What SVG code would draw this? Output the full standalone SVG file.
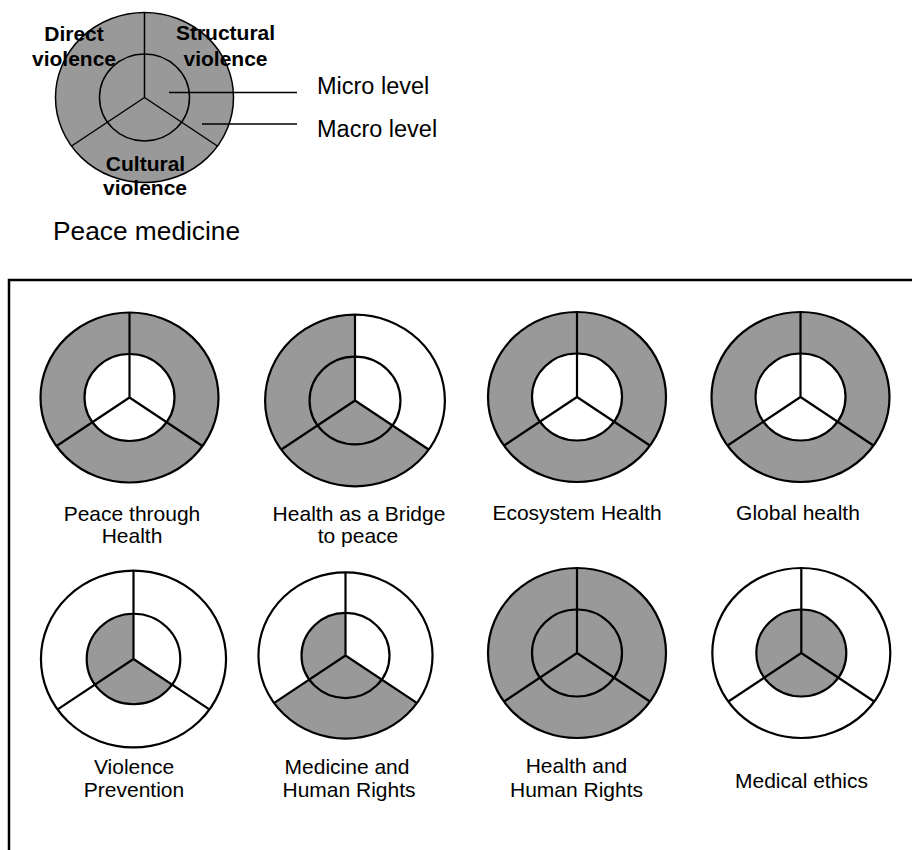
<svg xmlns="http://www.w3.org/2000/svg" xmlns:xlink="http://www.w3.org/1999/xlink" width="912" height="850" viewBox="0 0 912 850">
<style>
  .g { fill: #999999; stroke: none; }
  .w { fill: #ffffff; stroke: none; }
  .ol { fill: none; stroke: #000; stroke-width: 2.2; }
  .olt { fill: none; stroke: #000; stroke-width: 1.5; }
  .lbl { font-family: "Liberation Sans", Arial, sans-serif; font-size: 21px; fill: #000; text-anchor: middle; }
  .bold { font-family: "Liberation Sans", Arial, sans-serif; font-size: 21px; font-weight: bold; fill: #000; text-anchor: middle; }
  .big { font-family: "Liberation Sans", Arial, sans-serif; font-size: 23.5px; fill: #000; }
  .lead { stroke: #000; stroke-width: 1.5; fill: none; }
  .frame { fill: none; stroke: #000; stroke-width: 2.5; }
</style>
<defs>
  <path id="oS" d="M0,-85 A89 85 0 0 1 72.9,48.5 L37.1,24.7 A45 43.5 0 0 0 0,-43.5 Z"/>
  <path id="oC" d="M72.9,48.5 A89 85 0 0 1 -72.9,48.5 L-37.1,24.7 A45 43.5 0 0 0 37.1,24.7 Z"/>
  <path id="oD" d="M-72.9,48.5 A89 85 0 0 1 0,-85 L0,-43.5 A45 43.5 0 0 0 -37.1,24.7 Z"/>
  <path id="iS" d="M0,0 L0,-43.5 A45 43.5 0 0 1 37.1,24.7 Z"/>
  <path id="iC" d="M0,0 L37.1,24.7 A45 43.5 0 0 1 -37.1,24.7 Z"/>
  <path id="iD" d="M0,0 L-37.1,24.7 A45 43.5 0 0 1 0,-43.5 Z"/>
  <g id="outline">
    <ellipse cx="0" cy="0" rx="89" ry="85" vector-effect="non-scaling-stroke"/>
    <ellipse cx="0" cy="0" rx="45" ry="43.5" vector-effect="non-scaling-stroke"/>
    <path d="M0,-85 L0,0 L72.9,48.5 M0,0 L-72.9,48.5" vector-effect="non-scaling-stroke" stroke-linejoin="round"/>
  </g>
</defs>

<!-- Peace medicine (legend) -->
<g id="peace-medicine">
  <g transform="translate(144.5,97.5)">
    <use href="#oS" class="g"/><use href="#oC" class="g"/><use href="#oD" class="g"/>
    <use href="#iS" class="g"/><use href="#iC" class="g"/><use href="#iD" class="g"/>
    <use href="#outline" class="olt"/>
  </g>
  <text class="bold" x="74" y="41">Direct</text>
  <text class="bold" x="74" y="66">violence</text>
  <text class="bold" x="225.5" y="40">Structural</text>
  <text class="bold" x="225.5" y="66">violence</text>
  <text class="bold" x="145.5" y="171">Cultural</text>
  <text class="bold" x="145" y="195">violence</text>
  <text class="big" x="53" y="239.5" style="font-size:26.3px">Peace medicine</text>
</g>

<g id="micro-level">
  <text class="big" x="317" y="93.5">Micro level</text>
</g>
<g id="macro-level">
  <text class="big" x="317" y="137">Macro level</text>
</g>

<g id="connectors">
  <line class="lead" x1="169" y1="92.5" x2="297" y2="92.5"/>
  <line class="lead" x1="202" y1="124" x2="297" y2="124"/>
</g>

<rect id="frame" class="frame" x="9" y="280" width="930" height="620"/>

<!-- Row 1 -->
<g id="peace-through-health">
  <g transform="translate(129.5,397.5)">
    <use href="#oS" class="g"/><use href="#oC" class="g"/><use href="#oD" class="g"/>
    <use href="#iS" class="w"/><use href="#iC" class="w"/><use href="#iD" class="w"/>
    <use href="#outline" class="ol"/>
  </g>
  <text class="lbl" x="132" y="520.5">Peace through</text>
  <text class="lbl" x="132" y="542.5">Health</text>
</g>

<g id="health-bridge-peace">
  <g transform="translate(355,400.5) scale(1.01)">
    <use href="#oS" class="w"/><use href="#oC" class="g"/><use href="#oD" class="g"/>
    <use href="#iS" class="w"/><use href="#iC" class="g"/><use href="#iD" class="g"/>
    <use href="#outline" class="ol"/>
  </g>
  <text class="lbl" x="359" y="520.5">Health as a Bridge</text>
  <text class="lbl" x="358" y="542.5">to peace</text>
</g>

<g id="ecosystem-health">
  <g transform="translate(577,397)">
    <use href="#oS" class="g"/><use href="#oC" class="g"/><use href="#oD" class="g"/>
    <use href="#iS" class="w"/><use href="#iC" class="w"/><use href="#iD" class="w"/>
    <use href="#outline" class="ol"/>
  </g>
  <text class="lbl" x="577" y="520">Ecosystem Health</text>
</g>

<g id="global-health">
  <g transform="translate(800.5,397)">
    <use href="#oS" class="g"/><use href="#oC" class="g"/><use href="#oD" class="g"/>
    <use href="#iS" class="w"/><use href="#iC" class="w"/><use href="#iD" class="w"/>
    <use href="#outline" class="ol"/>
  </g>
  <text class="lbl" x="798" y="520">Global health</text>
</g>

<!-- Row 2 -->
<g id="violence-prevention">
  <g transform="translate(133.5,659) scale(1.04)">
    <use href="#oS" class="w"/><use href="#oC" class="w"/><use href="#oD" class="w"/>
    <use href="#iS" class="w"/><use href="#iC" class="g"/><use href="#iD" class="g"/>
    <use href="#outline" class="ol"/>
  </g>
  <text class="lbl" x="134" y="773.5">Violence</text>
  <text class="lbl" x="134" y="796.5">Prevention</text>
</g>

<g id="medicine-human-rights">
  <g transform="translate(345.5,655.5) scale(0.978)">
    <use href="#oS" class="w"/><use href="#oC" class="g"/><use href="#oD" class="w"/>
    <use href="#iS" class="w"/><use href="#iC" class="g"/><use href="#iD" class="g"/>
    <use href="#outline" class="ol"/>
  </g>
  <text class="lbl" x="347" y="773.5">Medicine and</text>
  <text class="lbl" x="349" y="796.5">Human Rights</text>
</g>

<g id="health-human-rights">
  <g transform="translate(577,653)">
    <use href="#oS" class="g"/><use href="#oC" class="g"/><use href="#oD" class="g"/>
    <use href="#iS" class="g"/><use href="#iC" class="g"/><use href="#iD" class="g"/>
    <use href="#outline" class="ol"/>
  </g>
  <text class="lbl" x="576.5" y="773">Health and</text>
  <text class="lbl" x="576.5" y="797">Human Rights</text>
</g>

<g id="medical-ethics">
  <g transform="translate(801.3,653)">
    <use href="#oS" class="w"/><use href="#oC" class="w"/><use href="#oD" class="w"/>
    <use href="#iS" class="g"/><use href="#iC" class="g"/><use href="#iD" class="g"/>
    <use href="#outline" class="ol"/>
  </g>
  <text class="lbl" x="801.5" y="788">Medical ethics</text>
</g>
</svg>
